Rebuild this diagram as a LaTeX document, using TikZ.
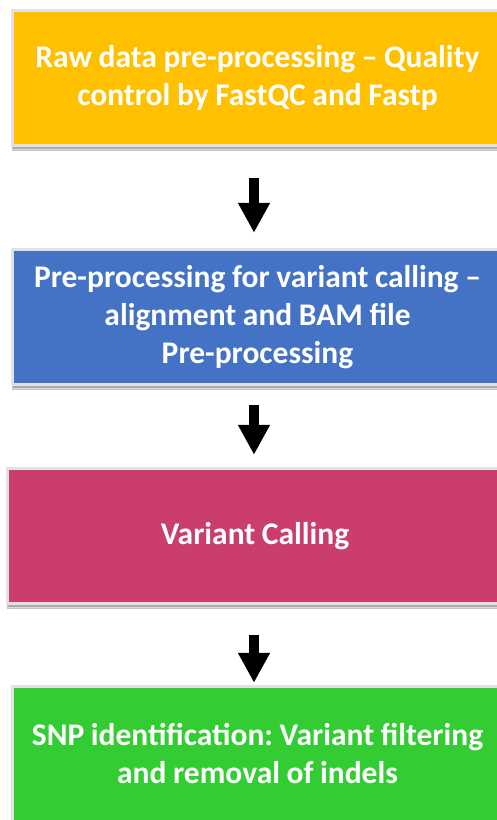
\documentclass[tikz,border=0pt]{standalone}
\usepackage{fontspec}
\setmainfont{Carlito}
\frenchspacing
\usetikzlibrary{arrows.meta,backgrounds}

\definecolor{stageyellow}{RGB}{255,192,0}
\definecolor{stageblue}{RGB}{68,114,196}
\definecolor{stagepink}{RGB}{203,61,110}
\definecolor{stagegreen}{RGB}{51,204,51}
\definecolor{frame}{RGB}{226,226,226}
\definecolor{shade}{RGB}{160,160,160}

\tikzset{
  stage/.style={fill=#1, text=white, inner sep=0pt, minimum height=132pt,
    text width=480pt, align=center,
    font=\fontsize{31.5}{38}\selectfont\bfseries,
    execute at begin node={\spaceskip=0.21em\relax}},
  flowarrow/.style={line width=10pt, -{Triangle[width=30pt,length=30pt]}},
}

% light frame and soft shadow behind a stage box
\newcommand{\stageframe}[1]{%
  \begin{pgfonlayer}{background}
    \fill[shade, opacity=0.35] ([shift={(-2pt,-7pt)}]#1.south west) rectangle ([shift={(3pt,0pt)}]#1.north east);
    \fill[shade, opacity=0.35] ([shift={(-1pt,-5pt)}]#1.south west) rectangle ([shift={(2pt,0pt)}]#1.north east);
    \fill[frame] ([shift={(-3pt,-3pt)}]#1.south west) rectangle ([shift={(3pt,3pt)}]#1.north east);
  \end{pgfonlayer}}

\begin{document}
\begin{tikzpicture}[x=1pt,y=1pt]
\useasboundingbox (0,0) rectangle (496,-820);

\node[stage=stageyellow, minimum width=487pt] (raw) at (257.5,-78)
  {Raw data pre-processing – Quality\\control by FastQC and Fastp};
\node[stage=stageblue, minimum width=487pt] (prep) at (257.5,-317)
  {Pre-processing for variant calling –\\alignment and BAM file\\Pre-processing};
\node[stage=stagepink, minimum width=492pt] (call) at (255,-536)
  {Variant Calling};
\node[stage=stagegreen, minimum width=487pt] (snp) at (257.5,-754)
  {SNP identification: Variant filtering\\and removal of indels};

\stageframe{raw}
\stageframe{prep}
\stageframe{call}
\stageframe{snp}

\coordinate (a1s) at (254,-178);
\coordinate (a2s) at (254,-405);
\coordinate (a3s) at (254,-635);
\draw[flowarrow, shorten >=18pt] (a1s) -- (prep.north -| a1s);
\draw[flowarrow, shorten >=15pt] (a2s) -- (call.north -| a2s);
\draw[flowarrow, shorten >=5pt] (a3s) -- (snp.north -| a3s);
\end{tikzpicture}
\end{document}
